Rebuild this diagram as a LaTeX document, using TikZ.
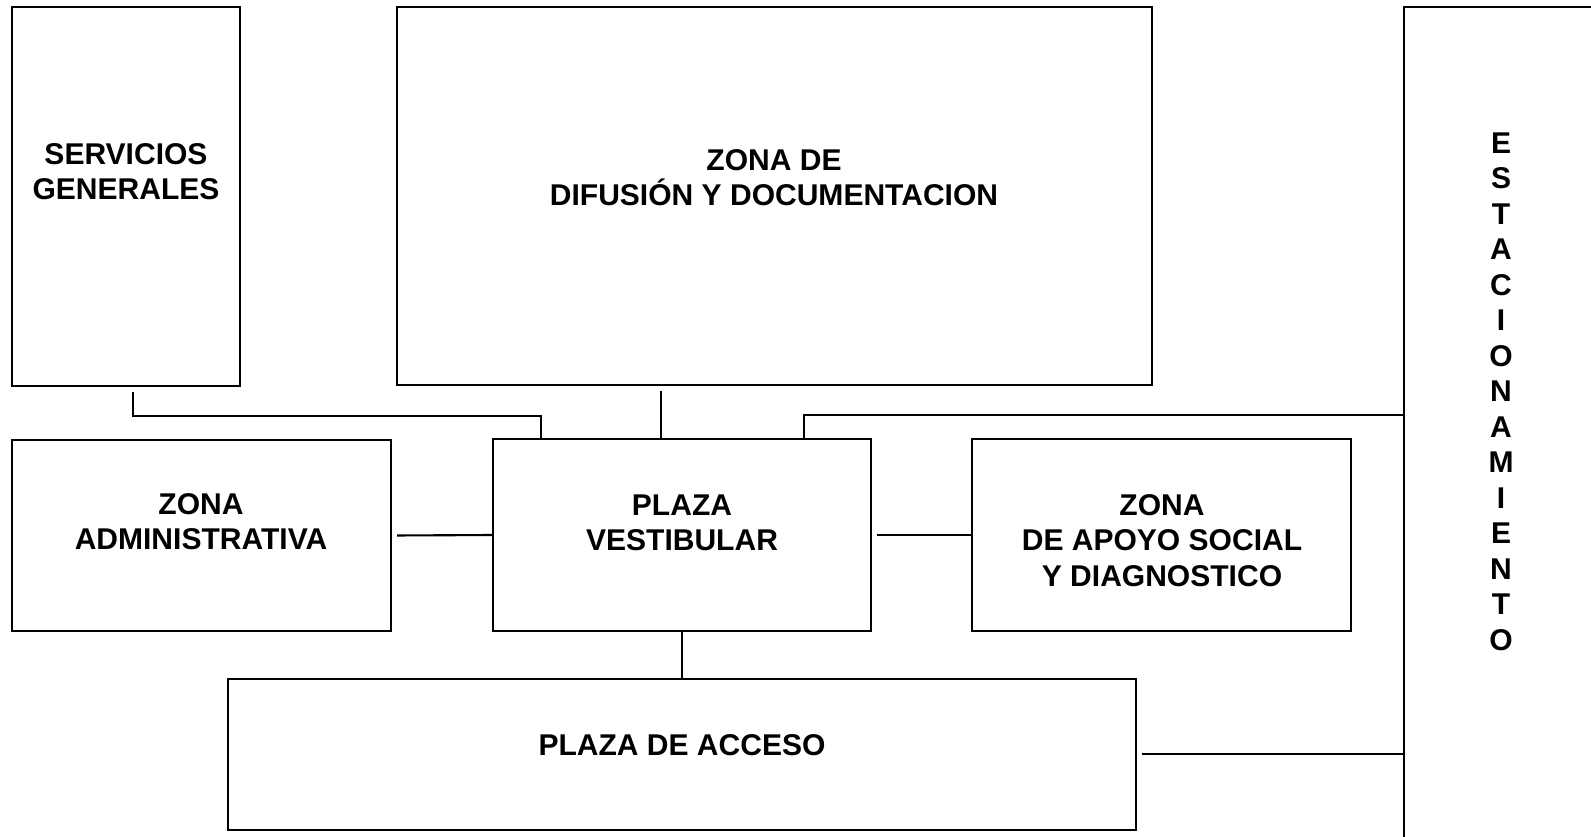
\documentclass[tikz,border=0pt]{standalone}
\usepackage{fontspec}
\setmainfont{Liberation Sans}

\begin{document}
\begin{tikzpicture}[x=0.01cm,y=-0.01cm,
    zone/.style={draw,line width=0.6pt,rectangle,inner sep=0pt},
    lbl/.style={align=center,inner sep=0pt,font=\fontsize{8.54pt}{10pt}\selectfont\bfseries},
    link/.style={line width=0.6pt},
    gap/.style={shorten <=1.4pt}]
      \useasboundingbox (0,0) rectangle (1591,836);
      \clip (0,0) rectangle (1591,836);

      \node[zone,minimum width=2.28cm,minimum height=3.79cm] (serv) at (126,196.5) {};
      \node[zone,minimum width=7.55cm,minimum height=3.78cm] (difu) at (774.5,196) {};
      \node[zone,minimum width=3.79cm,minimum height=1.91cm] (admin) at (201.5,535.5) {};
      \node[zone,minimum width=3.78cm,minimum height=1.92cm] (vest) at (682,535) {};
      \node[zone,minimum width=3.79cm,minimum height=1.92cm] (apoyo) at (1161.5,535) {};
      \node[zone,minimum width=9.08cm,minimum height=1.51cm] (acceso) at (682,754.5) {};
      \node[zone,minimum width=2.40cm,minimum height=8.80cm] (estac) at (1524,447) {};

      \node[lbl] (servtxt) at (126,171.5) {SERVICIOS\\GENERALES};
      \node[lbl] (difutxt) at (774,178) {ZONA DE\\DIFUSIÓN Y DOCUMENTACION};
      \node[lbl] (admintxt) at (201,522) {ZONA\\ADMINISTRATIVA};
      \node[lbl] (vesttxt) at (682,522.5) {PLAZA\\VESTIBULAR};
      \node[lbl] (apoyotxt) at (1162,540.5) {ZONA\\DE APOYO SOCIAL\\Y DIAGNOSTICO};
      \node[lbl] (accesotxt) at (682,745) {PLAZA DE ACCESO};
      \node[lbl,font=\fontsize{8.54pt}{10.1pt}\selectfont\bfseries] (estactxt) at (1501,391.5)
        {E\\S\\T\\A\\C\\I\\O\\N\\A\\M\\I\\E\\N\\T\\O};

      \coordinate (s1) at (133,416);
      \coordinate (s2) at (541,416);
      \coordinate (d1) at (661,400);
      \coordinate (e1) at (804,415);

      \draw[link,gap] (serv.south -| s1) -- (s1) -| (vest.north -| s2);
      \draw[link,gap] (difu.south -| d1) -- (vest.north -| d1);
      \draw[link] (vest.north -| e1) |- (estac.west |- e1);
      \draw[link,gap] (admin.east) -- (vest.west);
      \draw[link,gap] (vest.east) -- (apoyo.west);
      \draw[link] (vest.south) -- (vest.south |- acceso.north);
      \draw[link,gap] ([yshift=0.1pt]acceso.east) -- ([yshift=0.1pt]acceso.east -| estac.west);
    \end{tikzpicture}
\end{document}
